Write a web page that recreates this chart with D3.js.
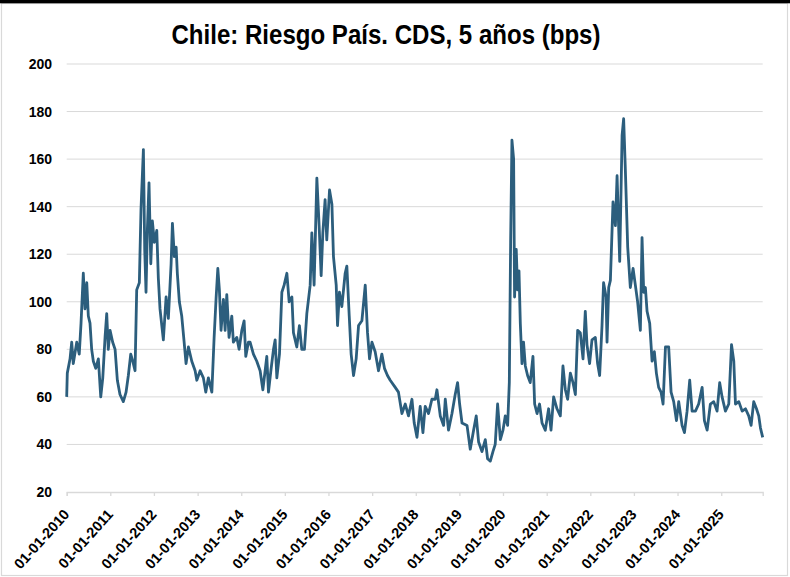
<!doctype html>
<html lang="es">
<head>
  <meta charset="utf-8">
  <title>Chile: Riesgo País. CDS, 5 años</title>
  <style>
    body { margin: 0; background: #fff; }
    svg { display: block; }
    .grid line { stroke: #d9d9d9; stroke-width: 1; }
    .ylab { font-family: "Liberation Sans", Arial, sans-serif; font-weight: bold; font-size: 14px; fill: #000; }
    .xlab { font-family: "Liberation Sans", Arial, sans-serif; font-weight: bold; font-size: 14.5px; fill: #000; }
    .title { font-family: "Liberation Sans", Arial, sans-serif; font-weight: bold; font-size: 27px; fill: #000; }
  </style>
</head>
<body>
  <script src="https://cdn.jsdelivr.net/npm/d3@7/dist/d3.min.js"></script>
  <script>

// fechas y valores (bps)
var dates = [
  "2010-01-01","2010-01-06","2010-01-29","2010-02-12","2010-02-25","2010-03-26","2010-04-16","2010-05-01",
  "2010-05-20","2010-06-03","2010-06-18","2010-07-01","2010-07-15","2010-07-29","2010-08-12","2010-09-01",
  "2010-09-23","2010-10-13","2010-10-30","2010-11-18","2010-12-02","2010-12-15","2010-12-30","2011-01-21",
  "2011-02-10","2011-03-01","2011-03-23","2011-04-20","2011-05-13","2011-06-01","2011-06-21","2011-07-08",
  "2011-07-27","2011-08-10","2011-09-01","2011-09-15","2011-10-05","2011-10-16","2011-10-27","2011-11-07",
  "2011-11-21","2011-12-06","2011-12-19","2012-01-05","2012-01-25","2012-02-07","2012-02-21","2012-03-20",
  "2012-04-12","2012-05-01","2012-05-24","2012-06-04","2012-06-20","2012-07-05","2012-07-15","2012-08-01",
  "2012-08-21","2012-09-10","2012-09-26","2012-10-16","2012-11-13","2012-12-11","2012-12-25","2013-01-22",
  "2013-02-18","2013-03-10","2013-04-01","2013-04-30","2013-05-19","2013-06-05","2013-06-19","2013-07-02",
  "2013-07-16","2013-08-05","2013-08-19","2013-09-02","2013-09-21","2013-10-14","2013-10-27","2013-11-25",
  "2013-12-14","2014-01-06","2014-01-25","2014-02-08","2014-03-02","2014-03-16","2014-04-13","2014-05-11",
  "2014-06-08","2014-07-01","2014-07-20","2014-08-03","2014-08-17","2014-09-06","2014-09-28","2014-10-12",
  "2014-10-26","2014-11-17","2014-12-07","2014-12-26","2015-01-18","2015-02-06","2015-03-01","2015-03-14",
  "2015-04-11","2015-05-03","2015-05-23","2015-06-14","2015-07-04","2015-08-01","2015-08-15","2015-09-03",
  "2015-09-26","2015-10-15","2015-11-01","2015-11-15","2015-12-04","2015-12-18","2016-01-10","2016-01-30",
  "2016-02-12","2016-03-06","2016-03-17","2016-04-02","2016-04-22","2016-05-20","2016-06-03","2016-06-23",
  "2016-07-09","2016-07-29","2016-08-20","2016-09-09","2016-10-07","2016-11-04","2016-11-23","2016-12-10",
  "2016-12-30","2017-01-26","2017-02-23","2017-03-23","2017-04-14","2017-05-09","2017-06-01","2017-07-13",
  "2017-08-09","2017-09-07","2017-10-05","2017-11-01","2017-11-30","2017-12-19","2018-01-11","2018-02-07",
  "2018-03-02","2018-03-21","2018-04-18","2018-05-16","2018-06-13","2018-06-27","2018-07-25","2018-08-22",
  "2018-09-05","2018-10-02","2018-10-31","2018-11-27","2018-12-17","2019-01-03","2019-01-23","2019-03-06",
  "2019-04-02","2019-04-30","2019-05-22","2019-06-11","2019-07-09","2019-08-06","2019-08-25","2019-09-17",
  "2019-10-09","2019-10-28","2019-11-17","2019-12-10","2020-01-01","2020-01-20","2020-02-09","2020-02-23",
  "2020-03-05","2020-03-16","2020-03-30","2020-04-07","2020-04-21","2020-05-02","2020-05-14","2020-05-25",
  "2020-06-08","2020-06-21","2020-07-06","2020-07-25","2020-08-16","2020-09-08","2020-09-22","2020-10-12",
  "2020-11-02","2020-11-23","2020-12-20","2021-01-17","2021-02-06","2021-02-28","2021-03-28","2021-04-25",
  "2021-05-17","2021-06-06","2021-06-25","2021-07-18","2021-08-09","2021-08-29","2021-09-17","2021-10-09",
  "2021-11-01","2021-11-20","2021-12-04","2021-12-26","2022-01-15","2022-02-12","2022-03-03","2022-03-20",
  "2022-04-09","2022-04-22","2022-05-13","2022-05-21","2022-06-04","2022-06-18","2022-07-10","2022-07-30",
  "2022-08-13","2022-09-04","2022-09-24","2022-10-07","2022-10-21","2022-11-10","2022-12-02","2022-12-25",
  "2023-01-13","2023-02-01","2023-02-24","2023-03-10","2023-03-24","2023-04-07","2023-04-21","2023-05-13",
  "2023-06-02","2023-06-21","2023-07-08","2023-07-27","2023-08-16","2023-09-02","2023-09-22","2023-10-19",
  "2023-11-08","2023-11-30","2023-12-23","2024-01-11","2024-02-08","2024-02-28","2024-03-21","2024-04-12",
  "2024-05-02","2024-05-30","2024-06-26","2024-07-25","2024-08-13","2024-09-05","2024-10-02","2024-10-30",
  "2024-11-27","2024-12-19","2025-01-08","2025-02-05","2025-03-05","2025-03-28","2025-04-16","2025-04-30",
  "2025-05-28","2025-06-25","2025-07-23","2025-08-19","2025-09-08","2025-09-30","2025-10-23","2025-11-11",
  "2025-11-25","2025-12-14"
];

var cds = [
  60,70,76,83,74,83,78,91,
  112,97,108,94,91,80,75,72,
  76,60,68,85,95,80,88,83,
  80,67,61,58,62,69,78,75,
  71,105,108,139,164,122,104,130,
  150,116,134,125,130,110,97,84,
  102,93,116,133,119,123,112,100,
  94,83,74,81,75,71,67,71,
  68,62,68,62,85,102,114,105,
  88,101,88,103,85,94,83,85,
  80,88,92,77,83,83,78,75,
  71,63,71,77,62,71,80,84,
  68,78,104,107,112,100,102,87,
  81,90,80,80,95,107,129,107,
  152,132,111,129,143,126,147,141,
  119,107,90,104,98,112,115,94,
  78,69,76,90,92,107,87,76,
  83,79,71,78,72,69,67,64,
  62,53,57,52,59,49,43,56,
  45,56,53,59,59,63,52,48,
  59,46,53,61,66,57,49,48,
  38,46,52,41,37,42,34,33,
  37,40,57,42,46,52,48,66,
  125,168,160,102,122,105,113,91,
  74,83,73,69,66,77,57,53,
  57,49,46,55,46,60,55,52,
  73,63,59,70,66,61,88,87,
  76,96,82,74,84,85,74,69,
  90,108,102,83,106,109,142,132,
  153,117,170,177,156,123,106,114,
  107,100,88,127,104,106,96,91,
  75,79,70,64,62,57,81,81,
  62,58,50,58,48,45,54,67,
  54,54,57,64,50,46,57,58,
  54,66,60,54,57,82,75,57,
  58,54,55,52,48,58,55,52,
  47,43
];

var yTicks = [20, 40, 60, 80, 100, 120, 140, 160, 180, 200];
var xTickYears = d3.range(2010, 2026);
var titleText = "Chile: Riesgo País. CDS, 5 años (bps)";

var W = 790, H = 577;
var margin = {left: 66.7, right: 27.3, top: 64, bottom: 85};

var parse = d3.timeParse("%Y-%m-%d");
var data = dates.map(function(d, i) { return {date: parse(d), value: cds[i]}; });

var svg = d3.select("body").append("svg")
    .attr("width", W)
    .attr("height", H);

// marco
svg.append("rect")
    .attr("x", 1.5).attr("y", 3.5)
    .attr("width", 786).attr("height", 572)
    .attr("fill", "#fff")
    .attr("stroke", "#d9d9d9")
    .attr("stroke-width", 1.2);
svg.append("rect")
    .attr("x", 0).attr("y", 0)
    .attr("width", W).attr("height", 3.3)
    .attr("fill", "#000");

var x = d3.scaleTime()
    .domain([parse("2010-01-01"), data[data.length - 1].date])
    .range([margin.left, W - margin.right]);

var y = d3.scaleLinear()
    .domain([20, 200])
    .range([H - margin.bottom, margin.top]);

// lineas de grilla
svg.append("g").attr("class", "grid")
  .selectAll("line")
  .data(yTicks.slice(1))
  .enter().append("line")
    .attr("x1", margin.left)
    .attr("x2", W - margin.right)
    .attr("y1", function(d) { return y(d); })
    .attr("y2", function(d) { return y(d); });

// etiquetas eje y
svg.append("g")
  .selectAll("text")
  .data(yTicks)
  .enter().append("text")
    .attr("class", "ylab")
    .attr("x", 52)
    .attr("y", function(d) { return y(d); })
    .attr("dy", "0.36em")
    .attr("text-anchor", "end")
    .text(function(d) { return d; });

// eje x
var xTicks = xTickYears.map(function(yr) { return new Date(yr, 0, 1); });
var xAxis = svg.append("g")
    .attr("transform", "translate(0," + y(20) + ")")
    .call(d3.axisBottom(x).tickValues(xTicks).tickSize(4).tickFormat(""));
xAxis.select(".domain").attr("stroke", "#d9d9d9").attr("stroke-width", 1.3);
xAxis.selectAll(".tick line").attr("stroke", "#d9d9d9").attr("stroke-width", 1.3);

svg.append("g")
  .selectAll("text")
  .data(xTicks)
  .enter().append("text")
    .attr("class", "xlab")
    .attr("text-anchor", "end")
    .attr("transform", function(d) {
      return "translate(" + (x(d) + 3.5) + "," + (y(20) + 23) + ") rotate(-48)";
    })
    .text(d3.timeFormat("%d-%m-%Y"));

// serie
var line = d3.line()
    .x(function(d) { return x(d.date); })
    .y(function(d) { return y(d.value); });

svg.append("path")
    .datum(data)
    .attr("fill", "none")
    .attr("stroke", "#2c5e7d")
    .attr("stroke-width", 2.8)
    .attr("stroke-linejoin", "round")
    .attr("d", line);

// titulo (fuente estrecha simulada)
svg.append("text")
    .attr("class", "title")
    .attr("x", 386)
    .attr("y", 44)
    .attr("text-anchor", "middle")
    .attr("textLength", 429)
    .attr("lengthAdjust", "spacingAndGlyphs")
    .text(titleText);

  </script>
</body>
</html>
